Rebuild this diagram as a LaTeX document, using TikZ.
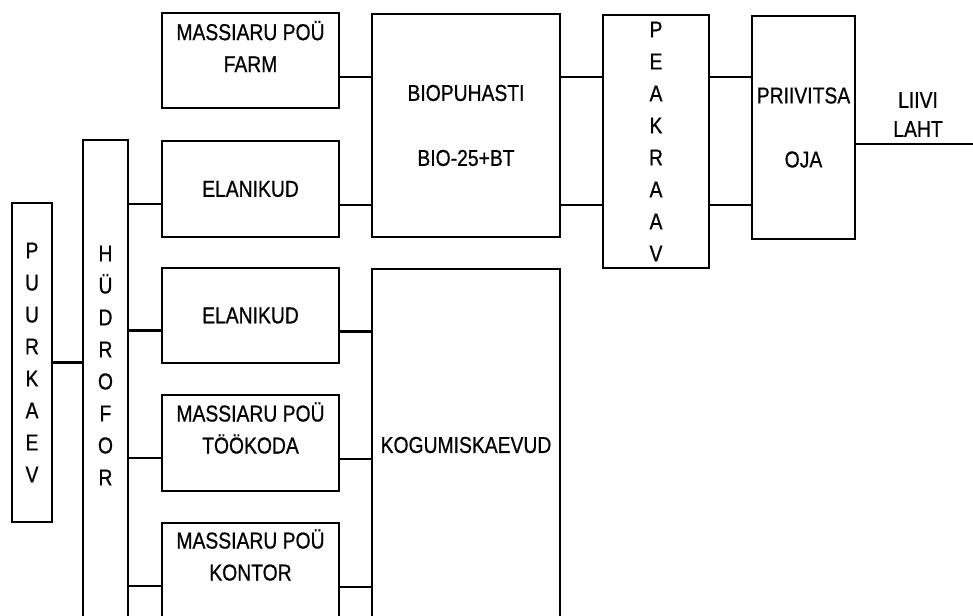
\documentclass[tikz,border=0pt]{standalone}
\usepackage{fontspec}
\setmainfont{Liberation Sans}[FakeStretch=0.84, FakeBold=0.7]

\tikzset{
  blk/.style={draw, line width=2.2pt, inner sep=0pt},
  pipe/.style={line width=2.2pt},
  lbl/.style={font=\fontsize{23}{32}\selectfont, align=center, inner sep=0pt},
}

\begin{document}
\begin{tikzpicture}[x=1pt,y=-1pt]

\useasboundingbox (0,0) rectangle (973,615);
\clip (0,0) rectangle (973,615);

% well and pressure tank
\node[blk, lbl, minimum width=40pt, minimum height=319pt] (puur) at (32,362.5)
  {P\\U\\U\\R\\K\\A\\E\\V};
\node[blk, minimum width=45pt, minimum height=500pt] (hydro) at (105.5,390) {};
\node[lbl] (hydrotxt) at (105.5,365.5) {H\\Ü\\D\\R\\O\\F\\O\\R};

% consumers
\node[blk, minimum width=177pt, minimum height=95pt] (farm) at (250.5,60.5) {};
\node[lbl] (farmtxt) at (250.5,46.5) {MASSIARU POÜ\\FARM};
\node[blk, lbl, minimum width=177pt, minimum height=96pt] (elan1) at (250.5,189) {ELANIKUD};
\node[blk, lbl, minimum width=177pt, minimum height=95pt] (elan2) at (250.5,315.5) {ELANIKUD};
\node[blk, minimum width=177pt, minimum height=96pt] (tookoda) at (250.5,443) {};
\node[lbl] (tookodatxt) at (250.5,428) {MASSIARU POÜ\\TÖÖKODA};
\node[blk, minimum width=177pt, minimum height=96pt] (kontor) at (250.5,571) {};
\node[lbl] (kontortxt) at (250.5,555) {MASSIARU POÜ\\KONTOR};

% treatment
\node[blk, lbl, minimum width=188pt, minimum height=223pt] (bio) at (466,125.5)
  {BIOPUHASTI\\[33pt]BIO-25+BT};
\node[blk, minimum width=188pt, minimum height=371pt] (kogu) at (466,454.5) {};
\node[lbl] (kogutxt) at (466,445) {KOGUMISKAEVUD};

% outlet
\node[blk, lbl, minimum width=106pt, minimum height=253pt] (peak) at (656,141.5)
  {P\\E\\A\\K\\R\\A\\A\\V};
\node[blk, lbl, minimum width=103pt, minimum height=223pt] (priiv) at (803.5,127.5)
  {PRIIVITSA\\[32pt]OJA};
\node[lbl, font=\fontsize{23}{29}\selectfont] (liivi) at (918,114.5) {LIIVI\\LAHT};

\coordinate (row1) at (0,77);
\coordinate (row2) at (0,205);
\coordinate (sea) at (973,144);

% pipes
\draw[pipe] (puur.east) -- (puur.east -| hydro.west);
\foreach \b in {elan1,elan2,tookoda,kontor}
  \draw[pipe] ([yshift=-15pt]\b.west) coordinate (tap) -- (tap -| hydro.east);

\draw[pipe] (farm.east |- row1) -- (bio.west |- row1);
\draw[pipe] (elan1.east |- row2) -- (bio.west |- row2);
\foreach \b in {elan2,tookoda,kontor}
  \draw[pipe] ([yshift=-16pt]\b.east) coordinate (out) -- (out -| kogu.west);

\draw[pipe] (bio.east |- row1) -- (peak.west |- row1);
\draw[pipe] (bio.east |- row2) -- (peak.west |- row2);
\draw[pipe] (peak.east |- row1) -- (priiv.west |- row1);
\draw[pipe] (peak.east |- row2) -- (priiv.west |- row2);
\draw[pipe] (priiv.east |- sea) -- (sea);

\end{tikzpicture}
\end{document}
